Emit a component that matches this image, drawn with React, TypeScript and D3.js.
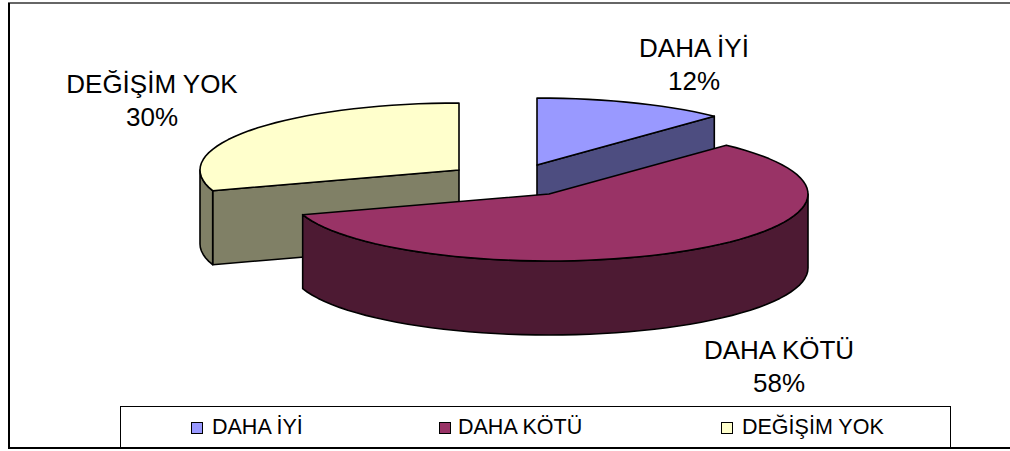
import React from "react";
import * as d3 from "d3";

const categories = ["DAHA İYİ", "DAHA KÖTÜ", "DEĞİŞİM YOK"];
const values = [12, 58, 30];
const percentLabels = ["12%", "58%", "30%"];
const topColors = ["#9999FF", "#993366", "#FFFFCC"];
const sideColors = ["#4D4D80", "#4D1A33", "#808066"];
const apexes = [[537, 165], [549, 194], [459, 170]];
const labelPos = [[694, 57, 90], [779, 359, 392], [152, 93, 126]];
const legendPos = [[191, 212], [439, 458], [721, 742]];
const drawOrder = [2, 0, 1];

const RX = 259;
const RY = 67;
const DEPTH = 74;
const FONT = "'Liberation Sans', Arial, sans-serif";

const rxScale = d3.scaleLinear().domain([0, 1]).range([0, RX]);
const ryScale = d3.scaleLinear().domain([0, 1]).range([0, RY]);
const pieGen = d3.pie<number>().sort(null).value((d) => d).startAngle(0).endAngle(2 * Math.PI);
const lineGen = d3.line<number[]>().x((d) => d[0]).y((d) => d[1]);

function rimPoints(cx: number, cy: number, a0: number, a1: number, dz = 0): number[][] {
  const n = Math.max(1, Math.ceil(Math.abs(a1 - a0) / (Math.PI / 60)));
  return d3.range(n + 1).map((i) => {
    const a = a0 + ((a1 - a0) * i) / n;
    return [cx + rxScale(Math.sin(a)), cy - ryScale(Math.cos(a)) + dz];
  });
}

export default function App() {
  const arcs = pieGen(values);
  const stroke = { stroke: "#000", strokeWidth: 1.6, strokeLinejoin: "round" as const };

  const slices = drawOrder.map((i) => {
    const { startAngle: a0, endAngle: a1 } = arcs[i];
    const [cx, cy] = apexes[i];
    const parts: React.ReactNode[] = [];

    // radial cut faces that look towards the viewer
    [a0, a1].forEach((a, k) => {
      const tip = rimPoints(cx, cy, a, a, 0)[0];
      const facesViewer = k === 1 ? Math.sin(a) > 0 && Math.sin(a) < 1 && Math.cos(a) > 0 : Math.sin(a) < 0 && Math.cos(a) < 0;
      if (facesViewer) {
        const face = [[cx, cy], tip, [tip[0], tip[1] + DEPTH], [cx, cy + DEPTH]];
        parts.push(<path key={`f${k}`} d={lineGen(face) + "Z"} fill={sideColors[i]} {...stroke} />);
      }
    });

    // outer wall on the front half of the ellipse
    const w0 = Math.max(a0, Math.PI / 2);
    const w1 = Math.min(a1, (3 * Math.PI) / 2);
    if (w1 > w0) {
      const upper = rimPoints(cx, cy, w0, w1);
      const lower = rimPoints(cx, cy, w1, w0, DEPTH);
      parts.push(<path key="w" d={lineGen([...upper, ...lower]) + "Z"} fill={sideColors[i]} {...stroke} />);
    }

    // top
    const top = [[cx, cy], ...rimPoints(cx, cy, a0, a1)];
    parts.push(<path key="t" d={lineGen(top) + "Z"} fill={topColors[i]} {...stroke} />);
    return <g key={categories[i]}>{parts}</g>;
  });

  return (
    <svg width={1010} height={451} style={{ position: "absolute", left: 0, top: 0, display: "block", background: "#fff" }}>
      <line x1={8} y1={3} x2={1010} y2={3} stroke="#333" strokeWidth={1.6} />
      <line x1={9} y1={3} x2={9} y2={449} stroke="#000" strokeWidth={2} />

      {slices}

      {categories.map((c, i) => (
        <text key={c} fontFamily={FONT} fontSize={26} fill="#000" textAnchor="middle">
          <tspan x={labelPos[i][0]} y={labelPos[i][1]}>{c}</tspan>
          <tspan x={labelPos[i][0]} y={labelPos[i][2]}>{percentLabels[i]}</tspan>
        </text>
      ))}

      <rect x={120.5} y={406.5} width={830} height={42} fill="#fff" stroke="#000" strokeWidth={1} />
      <line x1={8} y1={448} x2={1010} y2={448} stroke="#000" strokeWidth={2} />
      {categories.map((c, i) => (
        <g key={c}>
          <rect x={legendPos[i][0] + 0.5} y={422.5} width={11} height={11} fill={topColors[i]} stroke="#000" strokeWidth={1} />
          <text x={legendPos[i][1]} y={434} fontFamily={FONT} fontSize={21.5} fill="#000">{c}</text>
        </g>
      ))}
    </svg>
  );
}
